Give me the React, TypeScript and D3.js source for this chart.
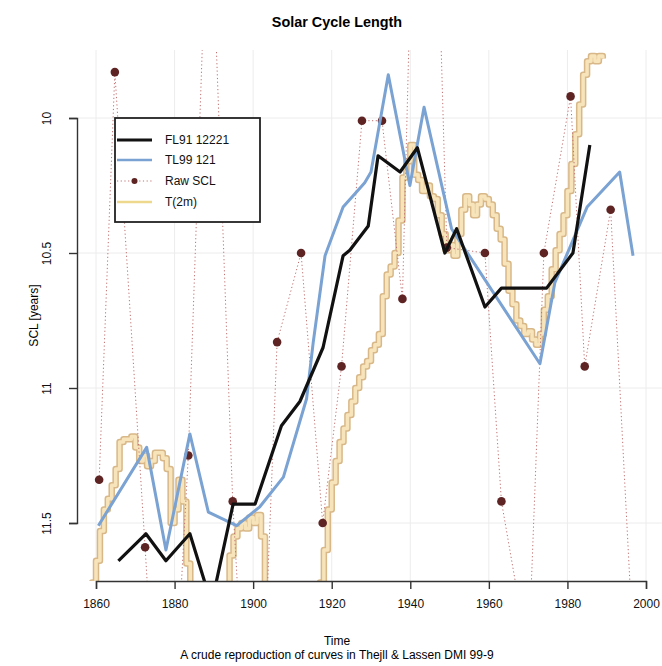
import React, { useEffect, useRef } from "react";
import * as d3 from "d3";

// FL91 12221 filtered solar cycle length [year, years]
const fl91: [number, number][] = [
  [1865.7, 11.64], [1872.7, 11.54], [1877.8, 11.64], [1883.9, 11.54], [1889.4, 11.8],
  [1894.9, 11.43], [1900.5, 11.43], [1907.2, 11.14], [1911.9, 11.05], [1917.8, 10.85],
  [1922.9, 10.51], [1924.6, 10.49], [1929.3, 10.4], [1931.8, 10.14], [1937.4, 10.2],
  [1941.8, 10.11], [1948.8, 10.5], [1951.8, 10.41], [1959.0, 10.7], [1963.2, 10.63],
  [1974.7, 10.63], [1981.4, 10.5], [1985.7, 10.1],
];

// TL99 121 filtered
const tl99: [number, number][] = [
  [1860.6, 11.51], [1872.9, 11.22], [1877.8, 11.6], [1883.9, 11.17], [1888.6, 11.46],
  [1895.8, 11.51], [1901.7, 11.44], [1907.7, 11.33], [1913.6, 11.04], [1915.3, 10.83],
  [1918.3, 10.51], [1922.9, 10.33], [1928.4, 10.24], [1930.0, 10.2], [1934.4, 9.84],
  [1939.9, 10.25], [1943.5, 9.96], [1950.5, 10.41], [1973.0, 10.91], [1976.8, 10.61],
  [1985.0, 10.33], [1993.3, 10.2], [1996.7, 10.51],
];

// raw cycle lengths (several fall outside the plotted range)
const rawScl: [number, number][] = [
  [1860.8, 11.34], [1864.8, 9.83], [1872.5, 11.59], [1877.6, 12.84], [1883.5, 11.25],
  [1888.8, 9.0], [1894.8, 11.42], [1900.5, 12.9], [1906.1, 10.83], [1912.2, 10.5],
  [1917.7, 11.5], [1922.5, 10.92], [1927.7, 10.01], [1932.8, 10.01], [1938.0, 10.67],
  [1943.5, 7.5], [1949.3, 10.48], [1959.0, 10.5], [1963.2, 11.42], [1970.1, 12.0],
  [1974.0, 10.5], [1980.8, 9.92], [1984.4, 10.92], [1991.0, 10.34], [1996.9, 12.0],
];

// T(2m) scaled onto the SCL axis, one value per year from t2mStart
const t2mStart = 1858;
const t2mValues = [
  11.9, 11.72, 11.64, 11.53, 11.45, 11.41, 11.36, 11.3, 11.2, 11.19, // 1858-1867
  11.19, 11.18, 11.22, 11.27, 11.25, 11.29, 11.27, 11.24, 11.24, 11.26, // 1868-1877
  11.3, 11.5, 11.45, 11.34, 11.42, 11.65, 11.9, 11.9, 11.9, 11.9, // 1878-1887
  11.9, 11.9, 11.9, 11.9, 11.9, 11.9, 11.62, 11.55, 11.52, 11.5, // 1888-1897
  11.52, 11.48, 11.5, 11.47, 11.55, 11.9, 11.9, 11.9, 11.9, 11.9, // 1898-1907
  11.9, 11.9, 11.9, 11.9, 11.9, 11.9, 11.9, 11.9, 11.9, 11.72, // 1908-1917
  11.6, 11.45, 11.35, 11.27, 11.2, 11.15, 11.1, 11.05, 11.0, 10.96, // 1918-1927
  10.92, 10.9, 10.86, 10.84, 10.8, 10.66, 10.58, 10.55, 10.5, 10.38, // 1928-1937
  10.22, 10.16, 10.1, 10.21, 10.23, 10.27, 10.25, 10.29, 10.3, 10.36, // 1938-1947
  10.43, 10.49, 10.47, 10.51, 10.43, 10.34, 10.29, 10.32, 10.36, 10.32, // 1948-1957
  10.29, 10.3, 10.32, 10.36, 10.41, 10.45, 10.54, 10.64, 10.69, 10.75, // 1958-1967
  10.77, 10.8, 10.79, 10.82, 10.84, 10.8, 10.71, 10.66, 10.56, 10.49, // 1968-1977
  10.43, 10.36, 10.27, 10.17, 10.06, 9.95, 9.84, 9.79, 9.77, 9.79, // 1978-1987
  9.77, 9.78, // 1988-1989
];

const xTicks = [1860, 1880, 1900, 1920, 1940, 1960, 1980, 2000];
const yTicks = [10, 10.5, 11, 11.5];
const legendLabels = ["FL91 12221", "TL99 121", "Raw SCL", "T(2m)"];

const FONT = "'Liberation Sans', Arial, Helvetica, sans-serif";

export default function App() {
  const ref = useRef<SVGSVGElement>(null);

  useEffect(() => {
    const svg = d3.select(ref.current);
    svg.selectAll("*").remove();

    const x = d3.scaleLinear().domain([1860, 2000]).range([96, 646]);
    const y = d3.scaleLinear().domain([10, 11.5]).range([118, 523]);
    const plot = { left: 77, top: 50, right: 662, bottom: 581 };

    svg
      .append("defs")
      .append("clipPath")
      .attr("id", "plotclip")
      .append("rect")
      .attr("x", plot.left)
      .attr("y", plot.top)
      .attr("width", plot.right - plot.left)
      .attr("height", plot.bottom - plot.top);

    // faint grid
    const grid = svg.append("g").attr("stroke", "#ececec").attr("stroke-width", 1);
    xTicks.forEach((t) =>
      grid.append("line").attr("x1", x(t)).attr("x2", x(t)).attr("y1", plot.top).attr("y2", plot.bottom)
    );
    yTicks.forEach((t) =>
      grid.append("line").attr("x1", plot.left).attr("x2", plot.right).attr("y1", y(t)).attr("y2", y(t))
    );

    const g = svg.append("g").attr("clip-path", "url(#plotclip)");
    const line = d3
      .line<[number, number]>()
      .x((d) => x(d[0]))
      .y((d) => y(d[1]));

    // temperature, drawn as stairs with a darker rim
    const t2m: [number, number][] = t2mValues.map((v, i) => [t2mStart + i, v]);
    const stair = line.curve(d3.curveStepAfter);
    g.append("path")
      .attr("d", stair(t2m))
      .attr("fill", "none")
      .attr("stroke", "#d8b888")
      .attr("stroke-width", 6.5)
      .attr("stroke-linejoin", "round");
    g.append("path")
      .attr("d", stair(t2m))
      .attr("fill", "none")
      .attr("stroke", "#f7e4bb")
      .attr("stroke-width", 3.5)
      .attr("stroke-linejoin", "round");
    line.curve(d3.curveLinear);

    // raw SCL
    g.append("path")
      .attr("d", line(rawScl))
      .attr("fill", "none")
      .attr("stroke", "#c07070")
      .attr("stroke-width", 1)
      .attr("stroke-dasharray", "1.2,2.5");
    g.selectAll("circle.raw")
      .data(rawScl)
      .enter()
      .append("circle")
      .attr("class", "raw")
      .attr("cx", (d) => x(d[0]))
      .attr("cy", (d) => y(d[1]))
      .attr("r", 4.3)
      .attr("fill", "#5e2424");

    g.append("path")
      .attr("d", line(tl99))
      .attr("fill", "none")
      .attr("stroke", "#7aa2d2")
      .attr("stroke-width", 3)
      .attr("stroke-linejoin", "round");

    g.append("path")
      .attr("d", line(fl91))
      .attr("fill", "none")
      .attr("stroke", "#111")
      .attr("stroke-width", 3.2)
      .attr("stroke-linejoin", "round");

    // axes
    const xAxis = svg
      .append("g")
      .attr("transform", `translate(0,${plot.bottom})`)
      .call(d3.axisBottom(x).tickValues(xTicks).tickFormat(d3.format("d")).tickSizeOuter(0).tickSize(8).tickPadding(10));
    const yAxis = svg
      .append("g")
      .attr("transform", `translate(${plot.left},0)`)
      .call(d3.axisLeft(y).tickValues(yTicks).tickFormat((d) => String(d)).tickSizeOuter(0).tickSize(8));

    [xAxis, yAxis].forEach((a) => {
      a.attr("font-family", FONT).attr("font-size", 12);
      a.select(".domain").attr("stroke", "#333").attr("stroke-width", 1.4);
      a.selectAll(".tick line").attr("stroke", "#333").attr("stroke-width", 1.4);
      a.selectAll(".tick text").attr("fill", "#111");
    });
    yAxis
      .selectAll(".tick text")
      .attr("transform", "rotate(-90)")
      .attr("x", 0)
      .attr("y", -(plot.left - 51))
      .attr("dy", 0)
      .style("text-anchor", "middle");

    // titles
    svg
      .append("text")
      .attr("x", 337)
      .attr("y", 27)
      .attr("text-anchor", "middle")
      .attr("font-family", FONT)
      .attr("font-size", 14.4)
      .attr("font-weight", "bold")
      .text("Solar Cycle Length");
    svg
      .append("text")
      .attr("x", 337)
      .attr("y", 645)
      .attr("text-anchor", "middle")
      .attr("font-family", FONT)
      .attr("font-size", 12)
      .text("Time");
    svg
      .append("text")
      .attr("x", 337)
      .attr("y", 659)
      .attr("text-anchor", "middle")
      .attr("font-family", FONT)
      .attr("font-size", 12)
      .text("A crude reproduction of curves in Thejll & Lassen DMI 99-9");
    svg
      .append("text")
      .attr("transform", `translate(38,${(plot.top + plot.bottom) / 2}) rotate(-90)`)
      .attr("text-anchor", "middle")
      .attr("font-family", FONT)
      .attr("font-size", 12)
      .text("SCL [years]");

    // legend
    const lg = svg.append("g");
    lg.append("rect")
      .attr("x", 115)
      .attr("y", 118)
      .attr("width", 145)
      .attr("height", 104)
      .attr("fill", "white")
      .attr("stroke", "#222")
      .attr("stroke-width", 1.8);
    const rowY = [140, 160, 181, 202];
    const x1 = 117;
    const x2 = 152;
    lg.append("line").attr("x1", x1).attr("x2", x2).attr("y1", rowY[0]).attr("y2", rowY[0])
      .attr("stroke", "#111").attr("stroke-width", 3);
    lg.append("line").attr("x1", x1).attr("x2", x2).attr("y1", rowY[1]).attr("y2", rowY[1])
      .attr("stroke", "#7aa2d2").attr("stroke-width", 2.5);
    lg.append("line").attr("x1", x1).attr("x2", x2).attr("y1", rowY[2]).attr("y2", rowY[2])
      .attr("stroke", "#c07070").attr("stroke-width", 1).attr("stroke-dasharray", "1.2,2.5");
    lg.append("circle").attr("cx", (x1 + x2) / 2).attr("cy", rowY[2]).attr("r", 3).attr("fill", "#5e2424");
    lg.append("line").attr("x1", x1).attr("x2", x2).attr("y1", rowY[3]).attr("y2", rowY[3])
      .attr("stroke", "#eed88e").attr("stroke-width", 2.5);
    legendLabels.forEach((lab, i) =>
      lg.append("text")
        .attr("x", 165)
        .attr("y", rowY[i] + 4)
        .attr("font-family", FONT)
        .attr("font-size", 12)
        .attr("fill", "#111")
        .text(lab)
    );
  }, []);

  return (
    <svg
      ref={ref}
      width={662}
      height={666}
      style={{ position: "absolute", left: 0, top: 0, background: "white" }}
    />
  );
}
